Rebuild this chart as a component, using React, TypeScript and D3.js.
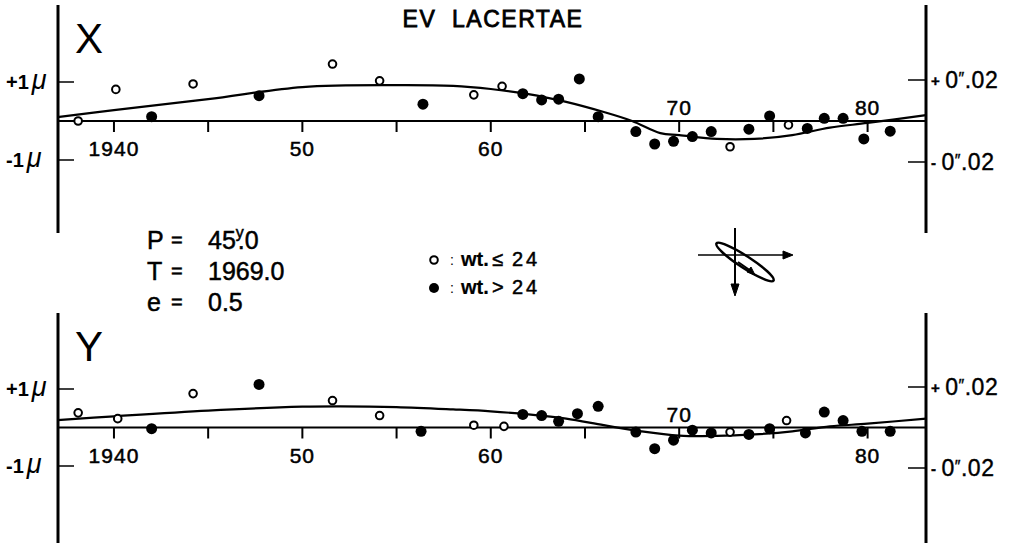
import React, { useEffect, useRef } from 'react';
import * as d3 from 'd3';

const W = 1012;
const H = 543;

// [year, displacement in micron]
const xOpen = [[1938.1, 0.0], [1940.1, 0.81], [1944.2, 0.95], [1951.6, 1.46], [1954.1, 1.03], [1959.1, 0.67], [1960.6, 0.89], [1972.7, -0.66], [1975.8, -0.1]];
const xFilled = [[1942.0, 0.11], [1947.7, 0.65], [1956.4, 0.43], [1961.7, 0.7], [1962.7, 0.54], [1963.6, 0.56], [1964.7, 1.08], [1965.7, 0.11], [1967.7, -0.27], [1968.7, -0.59], [1969.7, -0.52], [1970.7, -0.4], [1971.7, -0.27], [1973.7, -0.21], [1974.8, 0.13], [1976.8, -0.19], [1977.7, 0.07], [1978.7, 0.07], [1979.8, -0.46], [1981.2, -0.26]];
const xCurveYears = [1937.0, 1940, 1945, 1950, 1955, 1958, 1960, 1962, 1964, 1966, 1967.5, 1969, 1970, 1972, 1974, 1976, 1978, 1980, 1983.1];
const xCurve = [0.1, 0.28, 0.56, 0.87, 0.92, 0.9, 0.82, 0.69, 0.49, 0.23, 0.0, -0.31, -0.36, -0.46, -0.46, -0.36, -0.17, -0.05, 0.15];

const yOpen = [[1938.1, 0.38], [1940.2, 0.23], [1944.2, 0.88], [1951.6, 0.7], [1954.1, 0.31], [1959.1, 0.06], [1960.7, 0.03], [1972.7, -0.12], [1975.7, 0.18]];
const yFilled = [[1942.0, -0.03], [1947.7, 1.12], [1956.3, -0.1], [1961.7, 0.34], [1962.7, 0.31], [1963.6, 0.16], [1964.6, 0.36], [1965.7, 0.55], [1967.7, -0.12], [1968.7, -0.55], [1969.7, -0.33], [1970.7, -0.07], [1971.7, -0.14], [1973.7, -0.18], [1974.8, -0.03], [1976.7, -0.14], [1977.7, 0.4], [1978.7, 0.18], [1979.7, -0.1], [1981.2, -0.1]];
const yCurveYears = [1937.0, 1940, 1945, 1950, 1952, 1955, 1958, 1960, 1962, 1964, 1966, 1968, 1970, 1972, 1974, 1976, 1978, 1980, 1983.1];
const yCurve = [0.19, 0.29, 0.44, 0.54, 0.55, 0.53, 0.47, 0.42, 0.34, 0.23, 0.06, -0.1, -0.21, -0.22, -0.18, -0.1, 0.03, 0.1, 0.23];

const yearTicks = [1940, 1945, 1950, 1955, 1960, 1965, 1970, 1975, 1980];
const yearLabels = ['1940', '', '50', '', '60', '', '70', '', '80'];
const muTicks = [1, -1];
const muLabels = ['+1', '-1'];
const arcTicks = [0.02, -0.02];
const arcSigns = ['+', '-'];

const FONT = '"Liberation Sans", Arial, sans-serif';

// thicken the thin system font a little, like the lettering of the plate
const ink = (t, w = 0.5) => t.attr('stroke', '#000').attr('stroke-width', w);

const App = () => {
  const ref = useRef(null);

  useEffect(() => {
    const svg = d3.select(ref.current);
    svg.selectAll('*').remove();

    const x = d3.scaleLinear().domain([1937.03, 1983.1]).range([58, 926]);

    const panels = [
      { name: 'X', range: [160, 82], top: 5, bottom: 233, open: xOpen, filled: xFilled, cy: xCurveYears, cv: xCurve, above: [1970, 1980] },
      { name: 'Y', range: [466, 389], top: 313, bottom: 545, open: yOpen, filled: yFilled, cy: yCurveYears, cv: yCurve, above: [1970] }
    ];

    panels.forEach((p) => {
      const g = svg.append('g');
      const y = d3.scaleLinear().domain([-1, 1]).range(p.range);
      const arc = d3.scaleLinear().domain([-0.02, 0.02]).range([p.range[0] + 2, p.range[1] - 2]);
      const zero = y(0);

      // side axes
      g.append('line').attr('x1', x.range()[0]).attr('x2', x.range()[0])
        .attr('y1', p.top).attr('y2', p.bottom).attr('stroke', '#000').attr('stroke-width', 3);
      g.append('line').attr('x1', x.range()[1]).attr('x2', x.range()[1])
        .attr('y1', p.top).attr('y2', p.bottom).attr('stroke', '#000').attr('stroke-width', 3);

      // zero line
      g.append('line').attr('x1', x.range()[0]).attr('x2', x.range()[1])
        .attr('y1', zero).attr('y2', zero).attr('stroke', '#000').attr('stroke-width', 2);

      // year ticks
      yearTicks.forEach((t, i) => {
        g.append('line').attr('x1', x(t)).attr('x2', x(t))
          .attr('y1', zero).attr('y2', zero + 11).attr('stroke', '#000').attr('stroke-width', 2);
        if (yearLabels[i]) {
          const up = p.above.includes(t);
          ink(g.append('text').attr('x', x(t)).attr('y', up ? zero - 6 : zero + 35)
            .attr('text-anchor', 'middle').attr('font-family', FONT).attr('font-size', 21)
            .attr('letter-spacing', 1).text(yearLabels[i]));
        }
      });

      // left micron ticks
      muTicks.forEach((m, i) => {
        g.append('line').attr('x1', x.range()[0]).attr('x2', x.range()[0] + 16)
          .attr('y1', y(m)).attr('y2', y(m)).attr('stroke', '#000').attr('stroke-width', 1.5);
        const t = g.append('text').attr('x', 6).attr('y', y(m) + 7)
          .attr('font-family', FONT).attr('font-size', 20).attr('font-weight', 'bold');
        t.append('tspan').text(muLabels[i]);
        t.append('tspan').attr('dx', 3).attr('font-style', 'italic').attr('font-weight', 'normal')
          .attr('font-size', 27).text('\u03bc');
      });

      // right arcsec ticks
      arcTicks.forEach((a, i) => {
        g.append('line').attr('x1', x.range()[1] - 18).attr('x2', x.range()[1])
          .attr('y1', arc(a)).attr('y2', arc(a)).attr('stroke', '#000').attr('stroke-width', 1.5);
        const t = ink(g.append('text').attr('x', 931).attr('y', arc(a) + 8)
          .attr('font-family', FONT).attr('font-size', 23).attr('letter-spacing', 0.5), 0.4);
        t.append('tspan').attr('font-size', 15).attr('font-weight', 'bold').attr('dy', -2).text(arcSigns[i]);
        t.append('tspan').attr('dx', 5).attr('dy', 2).text('0');
        t.append('tspan').attr('font-size', 16).attr('dy', -4).text('\u2033');
        t.append('tspan').attr('dy', 4).text('.02');
      });

      // panel letter
      g.append('text').attr('x', 75).attr('y', p.top + 48)
        .attr('font-family', FONT).attr('font-size', 42).attr('font-weight', 300).text(p.name);

      // orbit curve
      const line = d3.line().x((d) => x(d[0])).y((d) => y(d[1])).curve(d3.curveCatmullRom);
      g.append('path').datum(p.cy.map((yr, i) => [yr, p.cv[i]]))
        .attr('d', line).attr('fill', 'none').attr('stroke', '#000').attr('stroke-width', 2.2);

      g.selectAll('.open').data(p.open).enter().append('circle')
        .attr('cx', (d) => x(d[0])).attr('cy', (d) => y(d[1])).attr('r', 3.8)
        .attr('fill', '#fff').attr('stroke', '#000').attr('stroke-width', 2);
      g.selectAll('.filled').data(p.filled).enter().append('circle')
        .attr('cx', (d) => x(d[0])).attr('cy', (d) => y(d[1])).attr('r', 5.5)
        .attr('fill', '#000');
    });

    // title
    ink(svg.append('text').attr('x', 493).attr('y', 27).attr('text-anchor', 'middle')
      .attr('font-family', FONT).attr('font-size', 23).attr('letter-spacing', 1.5)
      .attr('xml:space', 'preserve').text('EV  LACERTAE'), 0.8);

    // orbital elements
    const el = svg.append('g').attr('font-family', FONT).attr('font-size', 25);
    const rows = [['P', 249], ['T', 280], ['e', 311]];
    rows.forEach(([k, yy]) => {
      ink(el.append('text').attr('x', 147).attr('y', yy).text(k));
      ink(el.append('text').attr('x', 171).attr('y', yy - 2).attr('font-size', 20).text('='));
    });
    const pt = ink(el.append('text').attr('x', 208).attr('y', 249));
    pt.append('tspan').text('45');
    pt.append('tspan').attr('font-size', 16).attr('dy', -11).attr('dx', 0).text('y');
    pt.append('tspan').attr('dy', 11).attr('dx', -6).text('.0');
    ink(el.append('text').attr('x', 208).attr('y', 280).text('1969.0'));
    ink(el.append('text').attr('x', 208).attr('y', 311).text('0.5'));

    // legend
    const lg = svg.append('g').attr('font-family', FONT).attr('font-size', 20);
    lg.append('circle').attr('cx', 434).attr('cy', 260).attr('r', 3.8)
      .attr('fill', '#fff').attr('stroke', '#000').attr('stroke-width', 2);
    lg.append('circle').attr('cx', 434).attr('cy', 288).attr('r', 5)
      .attr('fill', '#000');
    [['\u2264', 266], ['>', 294]].forEach(([s, yy]) => {
      lg.append('text').attr('x', 450).attr('y', yy - 1).attr('font-size', 14).text(':');
      ink(lg.append('text').attr('x', 461).attr('y', yy).attr('font-weight', 'bold').text('wt.'), 0.2);
      ink(lg.append('text').attr('x', 492).attr('y', yy).text(s));
      ink(lg.append('text').attr('x', 512).attr('y', yy).attr('letter-spacing', 3).text('24'));
    });

    // orientation sketch
    const o = svg.append('g').attr('stroke', '#000').attr('fill', 'none');
    o.append('line').attr('x1', 698).attr('y1', 255).attr('x2', 785).attr('y2', 255).attr('stroke-width', 1.5);
    o.append('path').attr('d', 'M783,251 L793,255 L783,259 Z').attr('fill', '#000');
    o.append('line').attr('x1', 735).attr('y1', 228).attr('x2', 735).attr('y2', 286).attr('stroke-width', 2);
    o.append('path').attr('d', 'M731,284 L735,296 L739,284 Z').attr('fill', '#000');
    o.append('ellipse').attr('cx', 745).attr('cy', 262).attr('rx', 34).attr('ry', 6)
      .attr('transform', 'rotate(33 745 262)').attr('stroke-width', 2.5);
    o.append('line').attr('x1', 738).attr('y1', 262).attr('x2', 751).attr('y2', 271).attr('stroke-width', 2);
    o.append('path').attr('d', 'M747,272 L755,275 L751,267 Z').attr('fill', '#000');
  }, []);

  return (
    <svg ref={ref} width={W} height={H}
      style={{ position: 'absolute', left: 0, top: 0, background: '#fff' }} />
  );
};

export default App;
